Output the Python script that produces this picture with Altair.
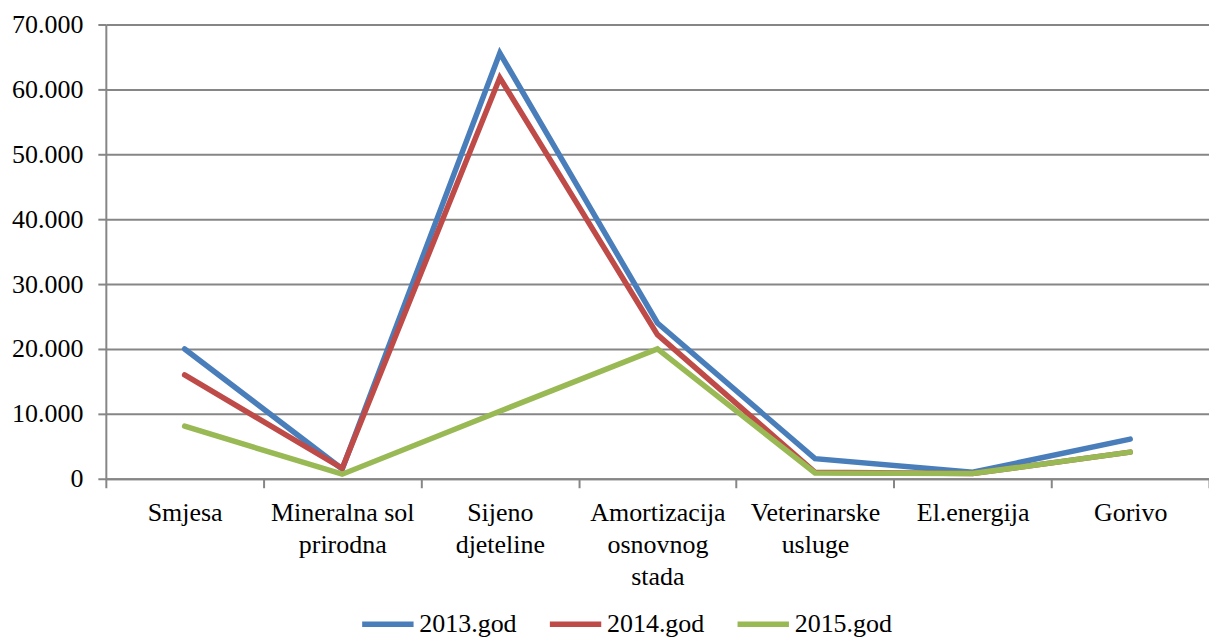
import altair as alt
import pandas as pd

categories = ["Smjesa", "Mineralna sol\nprirodna", "Sijeno\ndjeteline",
              "Amortizacija\nosnovnog\nstada", "Veterinarske\nusluge",
              "El.energija", "Gorivo"]
series_names = ["2013.god", "2014.god", "2015.god"]
v2013 = [20000, 1500, 65600, 24000, 3100, 1000, 6100]
v2014 = [16000, 1600, 61800, 22200, 1000, 800, 4100]
v2015 = [8100, 700, 10400, 20000, 900, 800, 4100]
colors = ["#4A7EBB", "#BE4B48", "#98B954"]

rows = []
for name, vals in zip(series_names, [v2013, v2014, v2015]):
    for i, (c, v) in enumerate(zip(categories, vals)):
        rows.append({"cat": c, "series": name, "value": v})
df = pd.DataFrame(rows)

font = "'Times New Roman', 'Liberation Serif', serif"

chart = alt.Chart(df).mark_line(strokeWidth=5.5, strokeCap="round", strokeJoin="miter").encode(
    x=alt.X("cat:N", sort=categories, bandPosition=0.5,
            scale=alt.Scale(type="band", paddingInner=0, paddingOuter=0),
            axis=alt.Axis(title=None, labelAngle=0, tickBand="extent",
                          labelExpr="split(datum.label, '\\n')",
                          labelFont=font, labelFontSize=26, labelColor="#000000",
                          labelLineHeight=32, labelPadding=12, labelBaseline="top",
                          domainColor="#868686", domainWidth=2,
                          tickColor="#868686", tickWidth=2, tickSize=9,
                          grid=False)),
    y=alt.Y("value:Q", scale=alt.Scale(domain=[0, 70000], nice=False),
            axis=alt.Axis(title=None, values=list(range(0, 70001, 10000)),
                          labelExpr="replace(format(datum.value, ','), ',', '.')",
                          labelFont=font, labelFontSize=26, labelColor="#000000",
                          labelPadding=15,
                          domainColor="#868686", domainWidth=2,
                          tickColor="#868686", tickWidth=2, tickSize=8,
                          gridColor="#868686", gridWidth=2)),
    color=alt.Color("series:N", sort=series_names,
                    scale=alt.Scale(domain=series_names, range=colors),
                    legend=alt.Legend(title=None, orient="none", direction="horizontal",
                                      legendX=254, legendY=572,
                                      symbolType="stroke", symbolStrokeWidth=5.5,
                                      symbolSize=2650, labelFont=font, labelFontSize=26,
                                      labelColor="#000000", columnPadding=21,
                                      labelOffset=3)),
).properties(
    width=1105, height=455,
    autosize=alt.AutoSizeParams(type="none"),
    padding={"left": 98, "top": 16, "right": 0, "bottom": 160},
).configure_view(stroke=None)

chart.save("out.html", embed_options={"renderer": "svg", "actions": False})
